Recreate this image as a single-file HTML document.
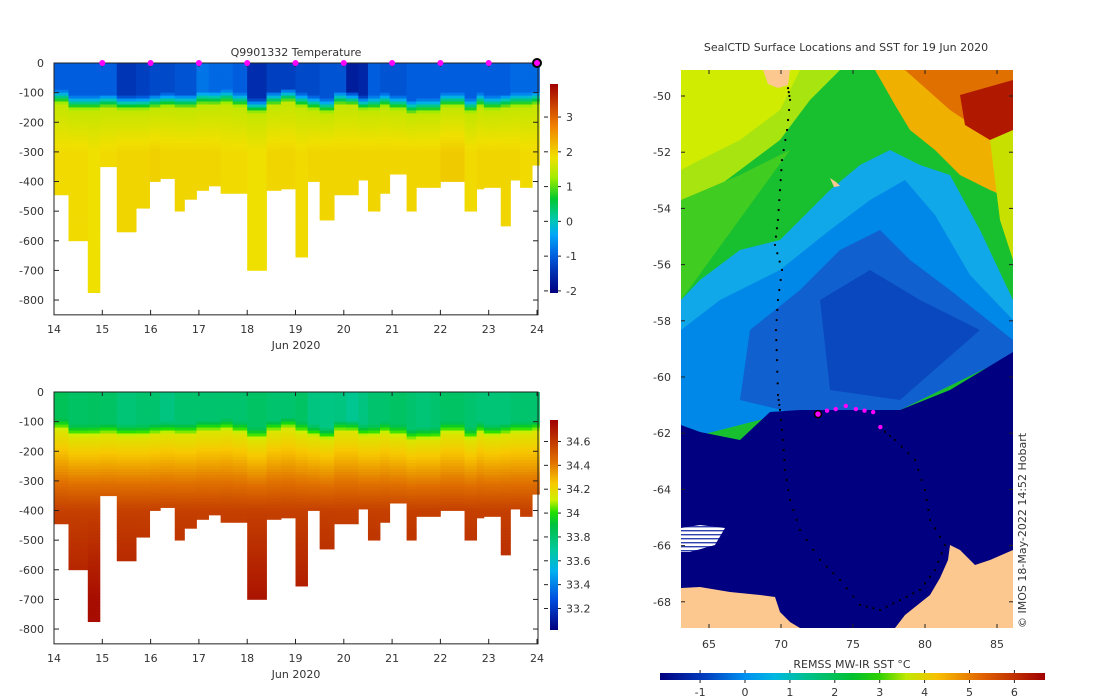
<!DOCTYPE html>
<html><head><meta charset="utf-8">
<style>
html,body{margin:0;padding:0;background:#fff;}
svg{display:block;font-family:"DejaVu Sans","Liberation Sans",sans-serif;}
text{fill:#333;font-size:11px;}
</style></head>
<body>
<svg id="root" width="1100" height="700" viewBox="0 0 1100 700" xmlns="http://www.w3.org/2000/svg">
<defs>
<linearGradient id="tempcb" x1="0" y1="1" x2="0" y2="0">
<stop offset="0" stop-color="#00007f"/><stop offset="0.1" stop-color="#0030b0"/><stop offset="0.18" stop-color="#0060e0"/><stop offset="0.28" stop-color="#00a8f8"/><stop offset="0.35" stop-color="#00c8b0"/><stop offset="0.45" stop-color="#00c830"/><stop offset="0.55" stop-color="#a0ec00"/><stop offset="0.65" stop-color="#f0e000"/><stop offset="0.8" stop-color="#f08000"/><stop offset="1" stop-color="#a00000"/>
</linearGradient>
<linearGradient id="salcb" x1="0" y1="1" x2="0" y2="0">
<stop offset="0" stop-color="#00007f"/><stop offset="0.15" stop-color="#0050e0"/><stop offset="0.28" stop-color="#00b0f0"/><stop offset="0.38" stop-color="#00c8a0"/><stop offset="0.5" stop-color="#00c040"/><stop offset="0.56" stop-color="#20e000"/><stop offset="0.62" stop-color="#d0f000"/><stop offset="0.7" stop-color="#f8c800"/><stop offset="0.8" stop-color="#e07000"/><stop offset="1" stop-color="#a00000"/>
</linearGradient>
<linearGradient id="sstcb" x1="0" y1="0" x2="1" y2="0">
<stop offset="0" stop-color="#000080"/><stop offset="0.12" stop-color="#0040c0"/><stop offset="0.22" stop-color="#0090f0"/><stop offset="0.3" stop-color="#00b8e0"/><stop offset="0.38" stop-color="#00c090"/><stop offset="0.5" stop-color="#00c030"/><stop offset="0.57" stop-color="#30d000"/><stop offset="0.64" stop-color="#c0e800"/><stop offset="0.72" stop-color="#f8c000"/><stop offset="0.84" stop-color="#e06000"/><stop offset="1" stop-color="#a00000"/>
</linearGradient>
<pattern id="hatch" width="6" height="4" patternUnits="userSpaceOnUse"><rect width="6" height="4" fill="#fff"/><rect y="2" width="6" height="1.4" fill="#3040b0"/></pattern>
<clipPath id="mapclip"><rect x="681" y="70" width="332" height="558"/></clipPath>
</defs>
<g id="temp"></g>
<g id="sal"></g>
<g id="map"></g>
</svg>
<script>
// ---- section data ----
const colStart = [14.0,14.3,14.7,14.95,15.3,15.7,15.98,16.2,16.5,16.7,16.95,17.2,17.45,17.7,18.0,18.4,18.7,19.0,19.25,19.5,19.8,20.05,20.3,20.5,20.75,20.95,21.3,21.5,21.8,22.0,22.5,22.75,22.9,23.25,23.45,23.65,23.9];
const colEnd = 24.05;
const maxDepth = [445,600,775,350,570,490,400,390,500,460,430,415,440,440,700,430,425,655,400,530,445,445,395,500,440,375,500,420,420,400,500,425,420,550,395,420,345];
const surfTemp = [-1.0,-1.0,-1.0,-1.0,-1.4,-1.3,-1.2,-1.2,-1.1,-1.1,-0.8,-0.9,-0.9,-1.0,-1.5,-1.3,-1.3,-1.2,-1.2,-1.1,-1.1,-1.7,-1.6,-1.0,-1.1,-1.1,-1.0,-1.0,-1.0,-1.0,-1.0,-1.0,-1.0,-1.0,-0.9,-0.9,-0.9];
const mixedDepth = [90,110,110,105,110,110,105,100,105,105,95,95,90,100,120,95,85,100,110,120,95,95,110,110,100,110,125,120,120,100,120,100,110,105,100,100,95];
const deepTemp = [1.9,1.9,1.85,1.9,1.95,1.95,2.0,1.95,1.95,1.95,1.95,1.95,1.9,1.9,1.85,1.95,1.95,1.9,1.95,1.95,1.95,1.95,1.95,1.95,1.95,1.95,1.95,1.95,1.95,2.05,1.9,1.95,1.95,1.95,1.95,1.9,1.9];
const surfSal = [33.85,33.82,33.83,33.82,33.78,33.8,33.8,33.76,33.8,33.8,33.8,33.8,33.8,33.8,33.82,33.8,33.8,33.82,33.76,33.75,33.76,33.72,33.76,33.8,33.8,33.82,33.8,33.78,33.8,33.82,33.8,33.78,33.78,33.78,33.8,33.8,33.8];
const deepSal = [34.68,34.7,34.74,34.6,34.7,34.68,34.64,34.64,34.68,34.68,34.65,34.64,34.66,34.66,34.72,34.66,34.66,34.7,34.64,34.68,34.66,34.66,34.64,34.68,34.66,34.63,34.68,34.65,34.65,34.66,34.68,34.65,34.65,34.68,34.64,34.64,34.6];
const dayTicks = [14,15,16,17,18,19,20,21,22,23,24];
const depthTicks = [0,-100,-200,-300,-400,-500,-600,-700,-800];
const markerDays = [15,16,17,18,19,20,21,22,23];
const tempCbTicks = [-2,-1,0,1,2,3];
const salCbTicks = ["33.2","33.4","33.6","33.8","34","34.2","34.4","34.6"];

// ---- map data ----
const trackLon = [70.49,70.63,70.42,70.07,69.93,69.79,69.58,70.07,69.79,69.65,69.72,69.79,69.93,70.14,70.28,70.63,71.32,72.71,74.10,75.49,76.88,78.26,79.65,80.69,81.39,80.35,80.0,79.31,77.92,76.88];
const trackLat = [-49.72,-50.14,-51.21,-52.28,-53.35,-54.41,-55.30,-56.19,-57.26,-58.33,-59.40,-60.64,-61.17,-62.24,-63.31,-64.38,-65.44,-66.51,-67.22,-68.11,-68.29,-67.94,-67.58,-66.87,-65.98,-65.09,-64.02,-62.95,-62.24,-61.81];
const pinkLon = [73.2,73.8,74.5,75.2,75.8,76.4,76.9];
const pinkLat = [-61.2,-61.14,-61.03,-61.14,-61.2,-61.25,-61.78];
const lonTicks = [65,70,75,80,85];
const latTicks = [-50,-52,-54,-56,-58,-60,-62,-64,-66,-68];
const sstTicks = [-1,0,1,2,3,4,5,6];

const NS='http://www.w3.org/2000/svg';
function mk(tag,attrs,parent){const e=document.createElementNS(NS,tag);for(const k in attrs)e.setAttribute(k,attrs[k]);parent.appendChild(e);return e;}
function lerpC(stops,t){t=Math.max(0,Math.min(1,t));for(let i=1;i<stops.length;i++){if(t<=stops[i][0]){const a=stops[i-1],b=stops[i];const f=(t-a[0])/(b[0]-a[0]||1);const ca=a[1],cb=b[1];return 'rgb('+[0,1,2].map(j=>Math.round(ca[j]+(cb[j]-ca[j])*f)).join(',')+')';}}return 'rgb('+stops[stops.length-1][1].join(',')+')';}
const tempStops=[[0,[0,0,127]],[0.1,[0,48,176]],[0.18,[0,96,224]],[0.28,[0,168,248]],[0.35,[0,200,176]],[0.45,[0,200,48]],[0.55,[160,236,0]],[0.65,[240,224,0]],[0.8,[240,128,0]],[1,[160,0,0]]];
const salStops=[[0,[0,0,127]],[0.15,[0,80,224]],[0.28,[0,176,240]],[0.38,[0,200,160]],[0.5,[0,192,64]],[0.56,[32,224,0]],[0.62,[208,240,0]],[0.7,[248,200,0]],[0.8,[224,112,0]],[1,[160,0,0]]];

function section(gid,y0,cbY0,cbY1,vmin,vmax,stops,profile,cbTicks,cbGrad,title){
  const g=document.getElementById(gid);
  const X=d=>54+(d-14)*48.3;
  const Y=z=>y0+z*0.2963;
  for(let i=0;i<colStart.length;i++){
    const x0=X(colStart[i]), x1=X(i+1<colStart.length?colStart[i+1]:colEnd);
    const col=mk('g',{},g);
    
    
    for(let z=0;z<maxDepth[i];z+=10){
      const h=Math.min(10,maxDepth[i]-z);
      const v=profile(i,z+5);
      mk('rect',{x:x0.toFixed(2),y:Y(z).toFixed(2),width:(x1-x0+0.4).toFixed(2),height:(h*0.2963+0.4).toFixed(2),fill:lerpC(stops,(v-vmin)/(vmax-vmin))},col);
    }
  }
  const ax=mk('rect',{x:54,y:y0,width:484,height:Y(850)-y0,fill:'none',stroke:'#222','stroke-width':1},g);
  
  
  depthTicks.forEach(t=>{const y=Y(-t);mk('line',{x1:54,y1:y,x2:59,y2:y,stroke:'#222'},g);mk('line',{x1:533,y1:y,x2:538,y2:y,stroke:'#222'},g);
    const tx=mk('text',{x:44,y:y+4,'text-anchor':'end'},g);tx.textContent=t;
    
    });
  const yb=Y(850);
  dayTicks.forEach(d=>{const x=X(d);mk('line',{x1:x,y1:yb,x2:x,y2:yb-5,stroke:'#222'},g);mk('line',{x1:x,y1:y0,x2:x,y2:y0+4,stroke:'#222'},g);
    const tx=mk('text',{x:x,y:yb+18,'text-anchor':'middle'},g);tx.textContent=d;
    
    });
  const xl=mk('text',{x:296,y:yb+34,'text-anchor':'middle'},g);xl.textContent='Jun 2020';
  
  
  if(title){const tt=mk('text',{x:296,y:y0-7,'text-anchor':'middle'},g);tt.textContent=title;
    
    }
  const cb=mk('rect',{x:550,y:cbY0,width:8,height:cbY1-cbY0,fill:'url(#'+cbGrad+')'},g);
  
  
  cbTicks.forEach(t=>{const v=parseFloat(t);const y=cbY1-(v-vmin)/(vmax-vmin)*(cbY1-cbY0);
    mk('line',{x1:558,y1:y,x2:561,y2:y,stroke:'#222'},g);mk('line',{x1:544,y1:y,x2:548,y2:y,stroke:'#222'},g);
    const tx=mk('text',{x:566,y:y+4},g);tx.textContent=t;
    
    });
  return {X,Y};
}
function tProf(i,z){const m=mixedDepth[i];if(z<m)return surfTemp[i];if(z<m+50)return surfTemp[i]+(1.5-surfTemp[i])*(z-m)/50;if(z<300)return 1.5+(deepTemp[i]-1.5)*(z-m-50)/(250-m);return deepTemp[i];}
function sProf(i,z){const m=mixedDepth[i];if(z<m)return surfSal[i];if(z<m+40)return surfSal[i]+(34.15-surfSal[i])*(z-m)/40;if(z<400)return 34.15+(34.58-34.15)*(z-m-40)/(360-m);return 34.58+(deepSal[i]-34.58)*Math.min(1,(z-400)/300);}
const T=section('temp',63,84,293,-2.06,3.95,tempStops,tProf,tempCbTicks,'tempcb','Q9901332  Temperature');
section('sal',392,420,630,33.02,34.78,salStops,sProf,salCbTicks,'salcb',null);
const tg=document.getElementById('temp');
markerDays.forEach(d=>{const c=mk('circle',{cx:T.X(d),cy:63,r:3,fill:'#f0f'},tg);
  
  });
const last=mk('circle',{cx:T.X(24),cy:63,r:4,fill:'#f0f',stroke:'#000','stroke-width':2},tg);



// ---- map ----
const mg=document.getElementById('map');
const LX=lon=>709+(lon-65)*14.4;
const LY=lat=>96+(-50-lat)*28.1;
const inner=mk('g',{'clip-path':'url(#mapclip)'},mg);
const P=(pts,fill,name)=>{const p=mk('polygon',{points:pts,fill:fill},inner);};
P('681,70 1013,70 1013,628 681,628','#18c030','sst-background');
P('681,70 840,70 810,100 780,140 740,170 700,200 681,210','#a8e410','sst-warm-west');
P('681,70 800,70 780,110 740,140 700,160 681,170','#d0ec00','sst-warm-west-core');
P('681,200 740,175 790,150 681,300','#40cc20','sst-green-west');
P('875,70 1013,70 1013,200 990,190 960,175 935,150 910,130 895,105','#f0b000','sst-orange-ne');
P('905,70 1013,70 1013,150 980,130 950,110','#e07000','sst-red-ne-a');
P('960,95 1013,80 1013,135 990,140 965,125','#b01800','sst-red-ne-b');
P('990,140 1013,130 1013,260 1000,220 995,180','#c8e000','sst-yellow-east');
P('681,300 700,280 740,250 780,240 830,190 860,165 890,150 920,165 950,175 980,230 1013,300 1013,355 681,440','#10a8e8','sst-cyan-band');
P('681,330 720,300 780,270 830,230 870,200 905,180 935,215 970,275 1013,320 1013,355 681,440','#0088e8','sst-blue-band');
P('750,330 800,290 840,250 880,230 910,260 950,290 1013,340 1013,355 900,410 790,412 740,400','#1060d0','sst-dark-blue');
P('820,300 870,270 920,300 960,320 980,330 900,400 830,390','#0a48c0','sst-darker-blue');
P('681,425 700,432 740,440 770,412 800,410 900,410 950,390 1013,352 1013,628 681,628','#000080','sst-ice-edge');
const hatch=mk('polygon',{points:'681,528 700,525 725,528 715,545 690,552 681,552',fill:'url(#hatch)'},inner);


P('681,588 700,587 730,592 760,595 775,597 780,612 790,622 800,628 681,628','#fcc890','antarctica-west');
P('895,628 905,615 930,595 940,578 948,560 950,545 960,550 975,565 990,560 1013,550 1013,628','#fcc890','antarctica-east');
P('763,70 790,70 788,85 778,88 768,84','#fcc890','kerguelen-island');
P('830,178 836,182 840,186 834,187','#fcc890','heard-island');
const trk=mk('g',{},inner);


for(let i=0;i<trackLon.length-1;i++){for(let k=0;k<3;k++){const f=k/3;
  const c=mk('circle',{cx:LX(trackLon[i]+(trackLon[i+1]-trackLon[i])*f),cy:LY(trackLat[i]+(trackLat[i+1]-trackLat[i])*f),r:1.1,fill:'#000'},trk);
  
  }}
pinkLon.forEach((lon,i)=>{const c=mk('circle',{cx:LX(lon),cy:LY(pinkLat[i]),r:2.2,fill:'#f0f'},inner);
  
  });
const cur=mk('circle',{cx:LX(72.57),cy:LY(-61.32),r:3.5,fill:'#f0f',stroke:'#000','stroke-width':1.5},inner);


lonTicks.forEach(l=>{const x=LX(l);mk('line',{x1:x,y1:70,x2:x,y2:74,stroke:'#222'},mg);mk('line',{x1:x,y1:624,x2:x,y2:628,stroke:'#222'},mg);
  const tx=mk('text',{x:x,y:648,'text-anchor':'middle'},mg);tx.textContent=l;
  
  });
latTicks.forEach(l=>{const y=LY(l);mk('line',{x1:681,y1:y,x2:685,y2:y,stroke:'#222'},mg);mk('line',{x1:1009,y1:y,x2:1013,y2:y,stroke:'#222'},mg);
  const tx=mk('text',{x:671,y:y+4,'text-anchor':'end'},mg);tx.textContent=l;
  
  });
const mt=mk('text',{x:846,y:51,'text-anchor':'middle'},mg);mt.textContent='SealCTD Surface Locations and SST for 19 Jun 2020';


const cp=mk('text',{x:0,y:0,transform:'translate(1026,628) rotate(-90)','font-size':'10'},mg);cp.textContent='© IMOS 18-May-2022 14:52 Hobart';


const sb=mk('rect',{x:660,y:673,width:385,height:7,fill:'url(#sstcb)'},mg);


const sl=mk('text',{x:852,y:668,'text-anchor':'middle'},mg);sl.textContent='REMSS MW-IR SST °C';


sstTicks.forEach(t=>{const x=745+t*44.9;mk('line',{x1:x,y1:670,x2:x,y2:673,stroke:'#222'},mg);mk('line',{x1:x,y1:680,x2:x,y2:683,stroke:'#222'},mg);
  const tx=mk('text',{x:x,y:696,'text-anchor':'middle'},mg);tx.textContent=t;
  
  });
</script>
</body></html>
